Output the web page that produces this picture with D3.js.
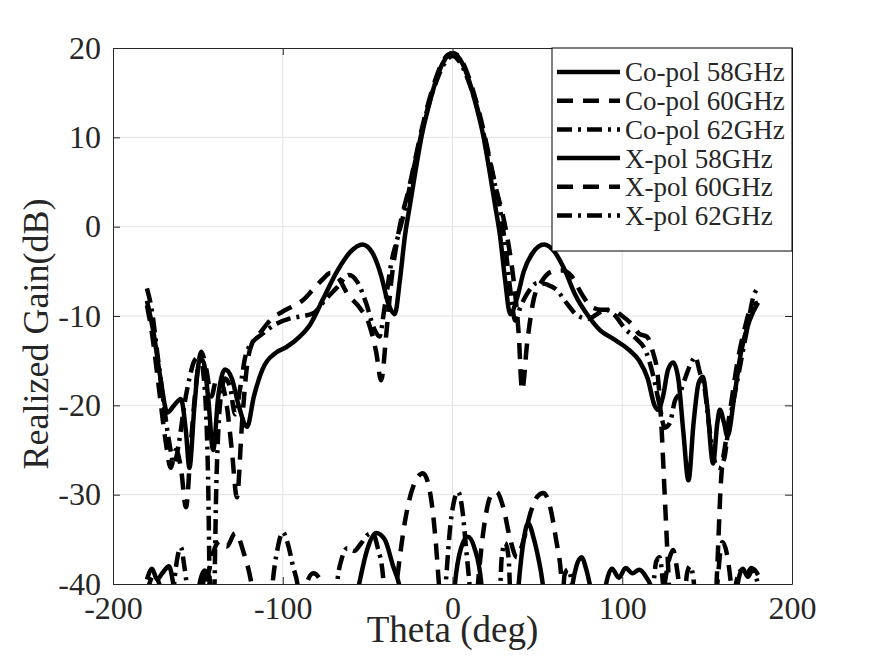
<!DOCTYPE html>
<html>
<head>
<meta charset="utf-8">
<script src="https://cdn.jsdelivr.net/npm/d3@7"></script>
<style>
  body { margin: 0; background: #fff; }
  svg text { font-family: "Liberation Serif", "Times New Roman", serif; fill: #262626; }
</style>
</head>
<body>
<div id="chart"></div>
<script>
// tick values
const xTicks = [-200, -100, 0, 100, 200]
const yTicks = [-40, -30, -20, -10, 0, 10, 20]

const seriesNames = ['Co-pol 58GHz', 'Co-pol 60GHz', 'Co-pol 62GHz', 'X-pol 58GHz', 'X-pol 60GHz', 'X-pol 62GHz']

// [theta (deg), realized gain (dB)], values below -40 are clipped by the axes
const coPol58 = [[-180,-8.3],[-176,-12],[-172,-17],[-168,-20.8],[-164,-20],[-160,-19.3],[-157,-23],[-155,-27],[-152,-20],[-149,-15],[-147,-15],[-144,-19],[-141,-25],[-138,-19],[-134,-16],[-130,-17],[-126,-20],[-121,-22.4],[-117,-19],[-112,-16],[-104,-14.1],[-98,-13.5],[-90,-12.3],[-84,-11],[-76,-8],[-68,-5],[-60,-2.8],[-53,-2],[-47,-3],[-42,-5.5],[-38,-8.5],[-34,-9.8],[-31,-6],[-28,-1],[-25,2.5],[-22,6],[-18,10.3],[-14,13.5],[-10,16.2],[-6,18.2],[-3,19.1],[0,19.4],[3,19.1],[6,18.2],[10,16.2],[14,13.5],[18,10.3],[22,6],[25,2.5],[28,-1],[31,-6],[34,-9.8],[38,-8],[42,-5],[47,-3],[54,-2],[60,-2.8],[66,-4.8],[72,-7.5],[80,-10],[87,-11.6],[95,-12.6],[104,-13.8],[110,-15],[115,-17],[119,-20],[121,-20.5],[124,-19],[127,-16],[130,-15.2],[133,-17],[136,-23],[139,-28.4],[142,-22],[145,-17.5],[147.5,-16.8],[150,-20],[153.5,-26.5],[156,-22],[157.5,-20.5],[160,-22],[162,-23.5],[166,-19],[170,-14],[175,-10.5],[180,-8.5]]

const coPol60 = [[-180,-8.8],[-177,-12],[-173,-18],[-169,-24],[-166,-27],[-163,-25],[-160,-27],[-157,-31.4],[-154,-24],[-151,-17.5],[-148,-14],[-145,-16],[-142,-19],[-139,-17],[-136,-17.5],[-133,-20],[-130,-25],[-127,-30.3],[-124,-22],[-121,-15.5],[-118,-13],[-113,-11.8],[-107,-10.4],[-100,-9.5],[-93,-8.8],[-88,-8.2],[-82,-7],[-76,-5.8],[-72,-5.2],[-67,-5.8],[-62,-7.5],[-55,-9],[-49,-11],[-45,-14],[-42,-17.2],[-39,-12],[-36,-6],[-33,-2],[-30,1],[-26,4],[-22,7.5],[-18,11],[-14,14],[-10,16.5],[-6,18.4],[-3,19.2],[0,19.4],[3,19.2],[6,18.4],[10,16.5],[14,14],[18,11],[22,7.5],[26,4],[30,1],[33,-2],[36,-6],[39,-12],[41,-18.3],[44,-13],[48,-8],[53,-6],[59,-5],[65,-4.9],[70,-5.5],[76,-7.5],[82,-9],[88,-9.3],[94,-9.3],[100,-10],[106,-11],[110,-12],[114.5,-12.3],[118,-14],[121,-16.8],[123,-22],[125,-30],[127,-38],[129,-45],[154,-45],[156,-38],[158,-29],[161,-24],[164,-20],[168,-15],[172,-11.5],[176,-9],[180,-8.5]]

const coPol62 = [[-180,-6.9],[-177,-9.5],[-174,-14],[-170,-20],[-167,-24],[-164,-26.5],[-161,-24],[-158,-20],[-155,-17],[-152,-15],[-149,-14.5],[-146,-18],[-144,-28],[-142.5,-45],[-141,-45],[-139,-28],[-137,-20],[-134,-17],[-131,-18],[-128,-21],[-125,-18],[-122,-14.5],[-118,-13],[-112,-12],[-105,-11],[-96,-10.3],[-88,-10],[-82,-9.7],[-75,-8.2],[-68,-6.8],[-61,-5.4],[-56,-6.2],[-51,-8.5],[-46,-11.5],[-43,-12.3],[-40,-9],[-36,-4],[-32,-1],[-28,2],[-24,5.5],[-20,9],[-15,13],[-10,16],[-5,18.2],[0,19.1],[5,18.2],[10,16],[15,13],[20,9],[24,5.5],[28,2],[31,-2],[34,-7],[37,-10.5],[40,-9],[44,-7.5],[50,-6.3],[56,-6.5],[61,-7],[67,-8.5],[74,-10],[80,-10.3],[85,-9.8],[90,-9.3],[95,-9.8],[102,-11.5],[108,-12.5],[114,-14],[118,-16.5],[122,-20],[125,-22.5],[128,-22],[131,-19.5],[134,-18.6],[137,-17],[140,-15.5],[143,-14.6],[146,-16.5],[148,-17.5],[151,-22],[154,-26],[157,-27],[160,-26],[163,-22],[166,-19],[170,-15],[174,-11],[177,-8],[180,-6.8]]

const xPol58 = [[-180,-39.5],[-177,-38.3],[-174,-39.5],[-171,-38.8],[-167,-38],[-164,-40.5],[-160,-45],[-152,-45],[-149,-40],[-146,-38.5],[-143,-39.5],[-140,-45],[-60,-45],[-55,-40],[-50,-36],[-45,-34.3],[-40,-35],[-35,-38],[-31,-40.5],[-28,-45],[0,-45],[1,-41],[5,-36],[9,-34.7],[13,-36],[17,-40],[19,-45],[37,-45],[39,-40],[42,-35],[44.5,-33.2],[48,-35],[52,-38.5],[55,-42],[68,-45],[70,-41],[73,-38],[76,-37],[79,-38.5],[82,-41],[88,-45],[90,-40.5],[94,-38.3],[98,-39.3],[102,-38.2],[106,-38.8],[110,-38.4],[114,-39.2],[118,-41],[120,-45],[166,-45],[168,-40],[171,-38.3],[174,-39.2],[177,-38.3],[180,-39]]

const xPol60 = [[-180,-41],[-176,-39],[-172,-40.5],[-169,-45],[-150,-45],[-145,-40],[-141,-36.5],[-137,-35.2],[-133,-35.8],[-128,-34.3],[-123,-36.5],[-118,-40.5],[-115,-45],[-90,-45],[-86,-40],[-82,-38.8],[-78,-39.5],[-75,-41],[-72,-45],[-36,-45],[-33,-40],[-28,-33],[-23,-29],[-17.4,-27.6],[-13,-30],[-10,-35],[-8,-40],[-6,-45],[13,-45],[15,-40],[19,-33],[23,-30],[26,-29.7],[30,-31.5],[34,-35],[38,-37],[42,-35],[46,-32],[50,-30.2],[53.5,-29.8],[57,-31],[61,-35],[64,-39],[66,-45],[122,-45],[125,-40],[128,-37],[130,-36.2],[132,-38],[134,-41],[136,-45],[154,-45],[156,-40],[159,-35.3],[162,-37],[164,-40],[166,-45],[180,-45]]

const xPol62 = [[-180,-40.5],[-176,-45],[-166,-45],[-164,-40],[-162,-37],[-160,-35.9],[-158,-38],[-156,-41],[-154,-45],[-150,-45],[-147,-40],[-145,-38.6],[-143,-40],[-141,-45],[-108,-45],[-106,-40],[-103,-36],[-100,-34.2],[-97,-35.5],[-94,-38],[-91,-40.5],[-89,-45],[-70,-45],[-68,-40],[-65,-37],[-62,-36],[-58,-36.3],[-54,-35.5],[-50,-34.5],[-47,-34.3],[-44,-36],[-41,-39],[-39,-45],[-6,-45],[-4,-40],[-1,-33],[3.3,-29.7],[6,-32],[8,-36],[10,-40],[12,-45],[27,-45],[29,-37],[31,-35.4],[33,-37],[35,-45],[64,-45],[66,-39],[68,-38.4],[70,-39.5],[72,-45],[116,-45],[118,-41],[120,-37.5],[122,-37],[124,-40],[126,-45],[136,-45],[138,-39],[140,-38],[142,-39.5],[144,-45],[164,-45],[167,-40],[170,-38.5],[173,-39],[176,-38.2],[180,-40]]

const seriesData = [coPol58, coPol60, coPol62, xPol58, xPol60, xPol62]

const MARGIN = { TOP: 48, BOTTOM: 73, LEFT: 113, RIGHT: 83 }
const WIDTH = 875 - MARGIN.LEFT - MARGIN.RIGHT
const HEIGHT = 657 - MARGIN.TOP - MARGIN.BOTTOM
const AXIS_COLOR = '#262626'
const LINE_W = 4.5
const DASHES = ['none', '16,10', '15,6,3,6', 'none', '16,10', '15,6,3,6']

const svg = d3.select('#chart')
  .append('svg')
    .attr('width', 875)
    .attr('height', 657)
  .append('g')
    .attr('transform', `translate(${MARGIN.LEFT}, ${MARGIN.TOP})`)

const x = d3.scaleLinear().domain([-200, 200]).range([0, WIDTH])
const y = d3.scaleLinear().domain([-40, 20]).range([HEIGHT, 0])

// grid
svg.append('g')
  .selectAll('line')
  .data(xTicks.slice(1, -1))
  .enter().append('line')
    .attr('x1', d => x(d)).attr('x2', d => x(d))
    .attr('y1', 0).attr('y2', HEIGHT)
    .attr('stroke', '#e3e3e3').attr('stroke-width', 1)
svg.append('g')
  .selectAll('line')
  .data(yTicks.slice(1, -1))
  .enter().append('line')
    .attr('x1', 0).attr('x2', WIDTH)
    .attr('y1', d => y(d)).attr('y2', d => y(d))
    .attr('stroke', '#e3e3e3').attr('stroke-width', 1)

svg.append('clipPath').attr('id', 'plot-clip')
  .append('rect').attr('width', WIDTH).attr('height', HEIGHT)

const line = d3.line()
  .x(d => x(d[0]))
  .y(d => y(d[1]))
  .curve(d3.curveMonotoneX)

svg.append('g')
  .attr('clip-path', 'url(#plot-clip)')
  .selectAll('path')
  .data(seriesData)
  .enter().append('path')
    .attr('d', line)
    .attr('fill', 'none')
    .attr('stroke', '#000')
    .attr('stroke-width', LINE_W)
    .attr('stroke-linejoin', 'round')
    .attr('stroke-dasharray', (d, i) => DASHES[i])

// axes, ticks pointing inward like matlab, plain hyphen for negatives
const fmt = d => String(d)
const xAxisCall = d3.axisBottom(x).tickValues(xTicks).tickFormat(fmt).tickSizeInner(-7).tickSizeOuter(0).tickPadding(12)
const xAxis = svg.append('g')
  .attr('transform', `translate(0, ${HEIGHT})`)
  .call(xAxisCall)
xAxis.selectAll('text').attr('font-size', 32)

const yAxisCall = d3.axisLeft(y).tickValues(yTicks).tickFormat(fmt).tickSizeInner(-7).tickSizeOuter(0).tickPadding(12)
const yAxis = svg.append('g').call(yAxisCall)
yAxis.selectAll('text').attr('font-size', 32)

svg.append('g')
  .call(d3.axisTop(x).tickValues(xTicks).tickSizeInner(-7).tickSizeOuter(0).tickFormat(''))
svg.append('g')
  .attr('transform', `translate(${WIDTH}, 0)`)
  .call(d3.axisRight(y).tickValues(yTicks).tickSizeInner(-7).tickSizeOuter(0).tickFormat(''))

svg.selectAll('.domain, .tick line').attr('stroke', AXIS_COLOR)
svg.selectAll('.tick text').attr('fill', AXIS_COLOR).attr('font-family', '"Liberation Serif", "Times New Roman", serif')

svg.append('text')
  .attr('x', WIDTH / 2)
  .attr('y', HEIGHT + 58)
  .attr('text-anchor', 'middle')
  .attr('font-size', 37)
  .text('Theta (deg)')

svg.append('text')
  .attr('x', -(HEIGHT / 2 + 18))
  .attr('y', -65)
  .attr('text-anchor', 'middle')
  .attr('font-size', 36)
  .attr('transform', 'rotate(-90)')
  .text('Realized Gain(dB)')

// legend
const LEG = { X: 552 - MARGIN.LEFT, Y: 0, W: WIDTH - (552 - MARGIN.LEFT), H: 203, ROW: 28.7 }
const legend = svg.append('g').attr('transform', `translate(${LEG.X}, ${LEG.Y})`)
legend.append('rect')
  .attr('width', LEG.W).attr('height', LEG.H)
  .attr('fill', '#fff').attr('stroke', '#000').attr('stroke-width', 1)

const rows = legend.selectAll('g.row')
  .data(seriesNames)
  .enter().append('g')
    .attr('class', 'row')
    .attr('transform', (d, i) => `translate(0, ${24 + i * LEG.ROW})`)
rows.append('line')
  .attr('x1', 5).attr('x2', 68)
  .attr('stroke', '#000').attr('stroke-width', LINE_W)
  .attr('stroke-dasharray', (d, i) => DASHES[i])
rows.append('text')
  .attr('x', 73)
  .attr('dy', '0.35em')
  .attr('font-size', 27)
  .attr('fill', '#000')
  .text(d => d)
</script>
</body>
</html>
